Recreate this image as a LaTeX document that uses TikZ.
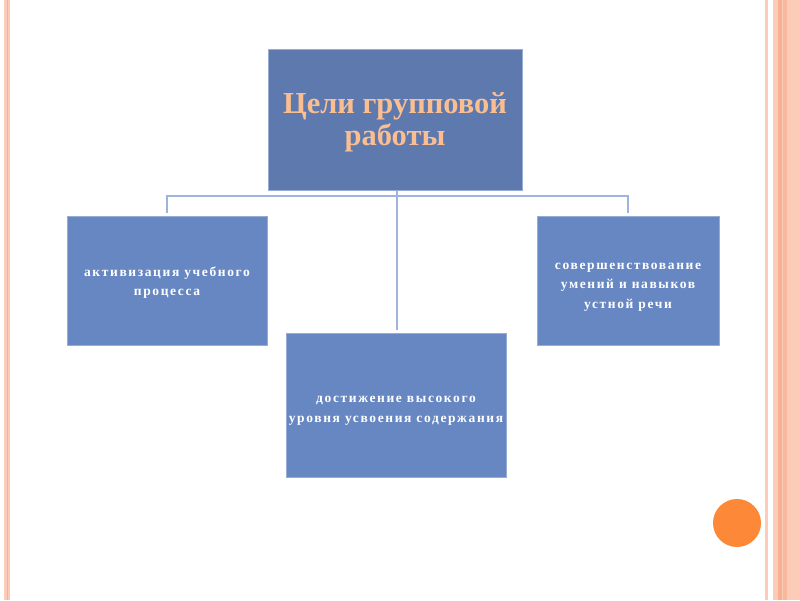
\documentclass[tikz,border=0pt]{standalone}
\usepackage{fontspec}
\setmainfont{Liberation Serif}
\newfontfamily\boxfont{Liberation Serif}[LetterSpace=12]
\usetikzlibrary{positioning}
\definecolor{titleblue}{RGB}{93,121,173}
\definecolor{boxblue}{RGB}{103,135,194}
\definecolor{edgeblue}{RGB}{150,172,212}
\definecolor{linkblue}{RGB}{158,180,220}
\definecolor{titletext}{RGB}{250,190,145}
\definecolor{stripe}{RGB}{252,204,184}
\definecolor{stripedark}{RGB}{246,176,146}
\definecolor{dotorange}{RGB}{253,137,56}
% pushes the text block of a box down a little
\newcommand\lowerby[1]{\rule{0pt}{#1}}

\begin{document}
\begin{tikzpicture}[x=1pt, y=-1pt,
  box/.style={draw=edgeblue, fill=boxblue, line width=0.6pt, inner sep=0pt, align=center, text=white,
    font=\boxfont\bfseries\fontsize{13.5}{19.5}\selectfont},
  link/.style={draw=linkblue, line width=2.4pt}]
\useasboundingbox[fill=white] (0,0) rectangle (800,600);
% slide border
\fill[stripe] (4,0) rectangle (10,600);
\fill[stripedark] (6.5,0) rectangle (7.5,600);
\fill[stripe] (765,0) rectangle (768,600);
\fill[stripe] (773,0) rectangle (800,600);
\fill[stripedark] (778,0) rectangle (782,600);
\fill[stripedark!70!stripe] (783,0) rectangle (787,600);
\fill[dotorange] (737,523) circle (24);

\node[box, fill=titleblue, minimum width=254pt, minimum height=141pt, text=titletext,
  font=\bfseries\fontsize{30.5}{32}\selectfont] (goal) at (395,119.5) {\lowerby{27pt}Цели групповой\\работы};
\node[box, minimum width=200pt, minimum height=129pt] (activ) at (167,280.5)
  {\lowerby{14pt}активизация учебного\\процесса};
\node[box, minimum width=182pt, minimum height=129pt] (skill) at (628,280.5)
  {\lowerby{19pt}совершенствование\\умений и навыков\\устной речи};
\node[box, minimum width=220pt, minimum height=144pt] (level) at (396,405)
  {\lowerby{18pt}достижение высокого\\уровня усвоения содержания};

\coordinate (bar) at (397,196);
\draw[link] ([yshift=3pt]activ.north) |- (bar) -| ([yshift=3pt]skill.north);
\draw[link] (goal.south -| bar) -- ([yshift=3pt]level.north -| bar);
\end{tikzpicture}
\end{document}
